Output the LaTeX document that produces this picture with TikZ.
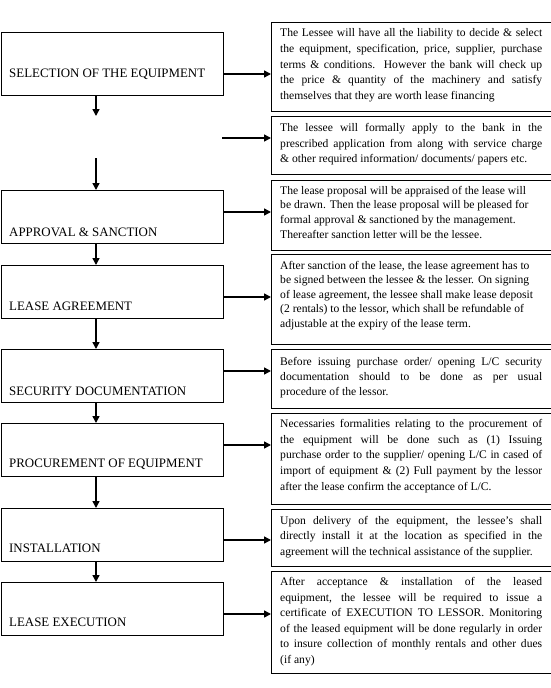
\documentclass[tikz,border=0pt]{standalone}
\usepackage{fontspec}
\setmainfont{Liberation Serif}
\usetikzlibrary{arrows.meta}
\newcommand\jl[1]{\hbox to 262pt{#1}}
\newcommand\nl[1]{\hbox{#1}}
\newcommand\txt[2]{\vtop{\hsize=262pt\fontsize{11.6}{#1}\selectfont\baselineskip=#1pt\lineskiplimit=-10pt #2}}
\begin{document}
\begin{tikzpicture}[x=1pt,y=-1pt,
  lbox/.style={draw, line width=0.9pt, minimum width=222pt, minimum height=#1, anchor=north west, inner sep=0pt},
  rbox/.style={draw, line width=0.9pt, minimum width=300pt, minimum height=#1, anchor=north west, inner sep=0pt},
  lab/.style={anchor=base west, inner sep=0pt, font=\fontsize{12.9}{15}\selectfont},
  body/.style={anchor=base west, inner sep=0pt},
  arr/.style={line width=1.5pt, -{Triangle[length=7pt,width=7pt]}}]
\useasboundingbox (0,0) rectangle (550,688);
% left boxes
\node[lbox=63pt] (l1) at (1,32) {};
\node[lbox=53pt] (l2) at (1,190) {};
\node[lbox=53pt] (l3) at (1,265) {};
\node[lbox=53pt] (l4) at (1,349) {};
\node[lbox=53pt] (l5) at (1,423) {};
\node[lbox=53pt] (l6) at (1,508) {};
\node[lbox=53pt] (l7) at (1,582) {};
\node[lab] (t1) at (9,77.7) {SELECTION OF THE EQUIPMENT};
\node[lab] (t2) at (9,236.7) {APPROVAL \& SANCTION};
\node[lab] (t3) at (9,310.7) {LEASE AGREEMENT};
\node[lab] (t4) at (9,395.7) {SECURITY DOCUMENTATION};
\node[lab] (t5) at (9,467.7) {PROCUREMENT OF EQUIPMENT};
\node[lab] (t6) at (9,552.7) {INSTALLATION};
\node[lab] (t7) at (9,626.7) {LEASE EXECUTION};
% right boxes
\node[rbox=89.3pt] (r1) at (271,21.7) {};
\node[rbox=58pt] (r2) at (271,116) {};
\node[rbox=70pt] (r3) at (271,180) {};
\node[rbox=90pt] (r4) at (271,254) {};
\node[rbox=59pt] (r5) at (271,349) {};
\node[rbox=91pt] (r6) at (271,413) {};
\node[rbox=57pt] (r7) at (271,509) {};
\node[rbox=102pt] (r8) at (271,571) {};
\node[body] (b1) at (280,36.7) {\txt{15.7}{%
\jl{The Lessee will have all the liability to decide \& select}%
\jl{the equipment, specification, price, supplier, purchase}%
\jl{terms \& conditions. However the bank will check up}%
\jl{the price \& quantity of the machinery and satisfy}%
\nl{themselves that they are worth lease financing}}};
\node[body] (b2) at (280,131.7) {\txt{15.5}{%
\jl{The lessee will formally apply to the bank in the}%
\jl{prescribed application from along with service charge}%
\nl{\& other required information/ documents/ papers etc.}}};
\node[body] (b3) at (280,194) {\txt{14.7}{%
\nl{The lease proposal will be appraised of the lease will}%
\nl{be drawn. Then the lease proposal will be pleased for}%
\nl{formal approval \& sanctioned by the management.}%
\nl{Thereafter sanction letter will be the lessee.}}};
\node[body] (b4) at (280,269) {\txt{14.6}{%
\nl{After sanction of the lease, the lease agreement has to}%
\nl{be signed between the lessee \& the lesser. On signing}%
\nl{of lease agreement, the lessee shall make lease deposit}%
\nl{(2 rentals) to the lessor, which shall be refundable of}%
\nl{adjustable at the expiry of the lease term.}}};
\node[body] (b5) at (280,365) {\txt{15}{%
\jl{Before issuing purchase order/ opening L/C security}%
\jl{documentation should to be done as per usual}%
\nl{procedure of the lessor.}}};
\node[body] (b6) at (280,427.3) {\txt{15.7}{%
\jl{Necessaries formalities relating to the procurement of}%
\jl{the equipment will be done such as (1) Issuing}%
\jl{purchase order to the supplier/ opening L/C in cased of}%
\jl{import of equipment \& (2) Full payment by the lessor}%
\nl{after the lease confirm the acceptance of L/C.}}};
\node[body] (b7) at (280,524) {\txt{15.5}{%
\jl{Upon delivery of the equipment, the lessee’s shall}%
\jl{directly install it at the location as specified in the}%
\nl{agreement will the technical assistance of the supplier.}}};
\node[body] (b8) at (280,585.7) {\txt{15.5}{%
\jl{After acceptance \& installation of the leased}%
\jl{equipment, the lessee will be required to issue a}%
\jl{certificate of EXECUTION TO LESSOR. Monitoring}%
\jl{of the leased equipment will be done regularly in order}%
\jl{to insure collection of monthly rentals and other dues}%
\nl{(if any)}}};
% coordinates
\coordinate (vx) at (96,0);
\coordinate (c1) at (96,116);
\coordinate (c2) at (96,158);
\coordinate (s2) at (222,138);
\coordinate (a1) at (0,74);
\coordinate (a3) at (0,212);
\coordinate (a4) at (0,297);
\coordinate (a5) at (0,371);
\coordinate (a6) at (0,445);
\coordinate (a7) at (0,540);
\coordinate (a8) at (0,614);
% vertical arrows
\draw[arr] (l1.south -| vx) -- (c1);
\draw[arr] (c2) -- (l2.north -| vx);
\draw[arr] (l2.south -| vx) -- (l3.north -| vx);
\draw[arr] (l3.south -| vx) -- (l4.north -| vx);
\draw[arr] (l4.south -| vx) -- (l5.north -| vx);
\draw[arr] (l5.south -| vx) -- (l6.north -| vx);
\draw[arr] (l6.south -| vx) -- (l7.north -| vx);
% horizontal arrows
\draw[arr] (a1 -| l1.east) -- (a1 -| r1.west);
\draw[arr] (s2) -- (s2 -| r2.west);
\draw[arr] (a3 -| l2.east) -- (a3 -| r3.west);
\draw[arr] (a4 -| l3.east) -- (a4 -| r4.west);
\draw[arr] (a5 -| l4.east) -- (a5 -| r5.west);
\draw[arr] (a6 -| l5.east) -- (a6 -| r6.west);
\draw[arr] (a7 -| l6.east) -- (a7 -| r7.west);
\draw[arr] (a8 -| l7.east) -- (a8 -| r8.west);
\end{tikzpicture}
\end{document}
